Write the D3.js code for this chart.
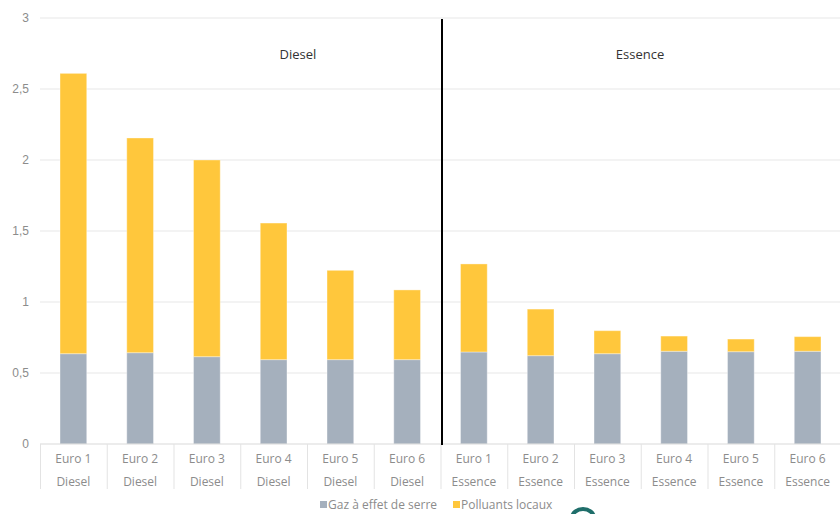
<!DOCTYPE html>
<html>
<head>
<meta charset="utf-8">
<script src="https://cdn.jsdelivr.net/npm/d3@7"></script>
<style>
  body { margin: 0; background: #fff; }
  svg { display: block; font-family: "Open Sans", sans-serif; }
  .tickText { fill: #8c8c8c; font-size: 12px; }
</style>
</head>
<body>
<div id="plot"></div>
<script>
// Chart values
var normes = ["Euro 1", "Euro 2", "Euro 3", "Euro 4", "Euro 5", "Euro 6"];
var carburants = ["Diesel", "Essence"];
var gazSerre = [0.636, 0.643, 0.615, 0.594, 0.594, 0.594, 0.648, 0.622, 0.636, 0.653, 0.650, 0.653];
var polluantsTotal = [2.61, 2.155, 2.0, 1.556, 1.223, 1.085, 1.268, 0.95, 0.798, 0.76, 0.739, 0.756];
var yTicks = [0, 0.5, 1, 1.5, 2, 2.5, 3];
var seriesNames = ["Gaz à effet de serre", "Polluants locaux"];
var colors = ["#a5b0bd", "#ffc73c"];

var svgWidth = 840;
var svgHeight = 514;
var margin = { top: 18, right: -1, bottom: 70, left: 40 };
var width = svgWidth - margin.left - margin.right;
var height = svgHeight - margin.top - margin.bottom;

// Build the rows: one per fuel / norm
var rows = [];
carburants.forEach(function(c, ci) {
  normes.forEach(function(n, ni) {
    var i = ci * normes.length + ni;
    rows.push({
      key: c + "|" + n,
      norme: n,
      carburant: c,
      gaz: gazSerre[i],
      locaux: polluantsTotal[i] - gazSerre[i]
    });
  });
});

var svg = d3.select("#plot")
  .append("svg")
  .attr("width", svgWidth)
  .attr("height", svgHeight);

var chartGroup = svg.append("g")
  .attr("transform", `translate(${margin.left}, ${margin.top})`);

var xBandScale = d3.scaleBand()
  .domain(rows.map(d => d.key))
  .range([0, width])
  .paddingInner(0.6)
  .paddingOuter(0.3);

var yLinearScale = d3.scaleLinear()
  .domain([0, 3])
  .range([height, 0]);

// Gridlines
chartGroup.append("g")
  .selectAll("line")
  .data(yTicks.slice(1))
  .enter()
  .append("line")
  .attr("x1", 0)
  .attr("x2", width)
  .attr("y1", d => yLinearScale(d))
  .attr("y2", d => yLinearScale(d))
  .attr("stroke", "#efefef")
  .attr("stroke-width", 1.5);

// Left axis (labels only)
var leftAxis = d3.axisLeft(yLinearScale)
  .tickValues(yTicks)
  .tickSize(0)
  .tickPadding(11)
  .tickFormat(d => String(d).replace(".", ","));

var yAxisG = chartGroup.append("g").call(leftAxis);
yAxisG.select(".domain").remove();
yAxisG.selectAll("text").attr("class", "tickText").attr("font-family", null).attr("font-size", null);

// Stacked bars
var stack = d3.stack().keys(["gaz", "locaux"]);
var stacked = stack(rows);

chartGroup.append("g")
  .selectAll("g")
  .data(stacked)
  .enter()
  .append("g")
  .attr("fill", (d, i) => colors[i])
  .selectAll("rect")
  .data(d => d)
  .enter()
  .append("rect")
  .attr("x", d => xBandScale(d.data.key))
  .attr("width", xBandScale.bandwidth())
  .attr("y", d => yLinearScale(d[1]))
  .attr("height", d => yLinearScale(d[0]) - yLinearScale(d[1]))
  .attr("stroke", "#ffffff")
  .attr("stroke-opacity", 0.35)
  .attr("stroke-width", 1);

// Category axis: baseline, separators and two label rows
var step = xBandScale.step();
var catAxis = chartGroup.append("g")
  .attr("transform", `translate(0, ${height})`);

catAxis.append("line")
  .attr("x1", 0)
  .attr("x2", width)
  .attr("stroke", "#d9d9d9");

catAxis.selectAll(".sep")
  .data(d3.range(rows.length + 1))
  .enter()
  .append("line")
  .attr("class", "sep")
  .attr("x1", i => i * step + 0.5)
  .attr("x2", i => i * step + 0.5)
  .attr("y1", 0)
  .attr("y2", 45)
  .attr("stroke", "#e3e3e3");

catAxis.selectAll(".norme")
  .data(rows)
  .enter()
  .append("text")
  .attr("class", "tickText")
  .attr("x", d => xBandScale(d.key) + xBandScale.bandwidth() / 2)
  .attr("y", 19)
  .attr("text-anchor", "middle")
  .text(d => d.norme);

catAxis.selectAll(".carb")
  .data(rows)
  .enter()
  .append("text")
  .attr("class", "tickText")
  .attr("x", d => xBandScale(d.key) + xBandScale.bandwidth() / 2)
  .attr("y", 42)
  .attr("text-anchor", "middle")
  .text(d => d.carburant);

// Black divider between Diesel and Essence
var divX = normes.length * step + 1.5;
chartGroup.append("line")
  .attr("x1", divX)
  .attr("x2", divX)
  .attr("y1", yLinearScale(3) + 1)
  .attr("y2", height + 1)
  .attr("stroke", "#000")
  .attr("stroke-width", 2);

// Group titles
chartGroup.selectAll(".groupTitle")
  .data(carburants)
  .enter()
  .append("text")
  .attr("class", "groupTitle")
  .attr("x", (d, i) => i === 0 ? 258 : 600)
  .attr("y", yLinearScale(2.71))
  .attr("text-anchor", "middle")
  .attr("fill", "#333")
  .style("font-size", "13px")
  .text(d => d);

// Legend
var legend = svg.append("g")
  .attr("transform", "translate(320, 507)");
var legendX = [0, 133];
seriesNames.forEach(function(name, i) {
  var g = legend.append("g").attr("transform", `translate(${legendX[i]}, 0)`);
  g.append("rect")
    .attr("x", 0)
    .attr("y", -6)
    .attr("width", 7)
    .attr("height", 7)
    .attr("fill", colors[i]);
  g.append("text")
    .attr("class", "tickText")
    .attr("x", 8)
    .attr("y", 1)
    .attr("dy", "0.1em")
    .text(name);
});

// Partial logo at the bottom edge
svg.append("path")
  .attr("d", "M572,518 A11,9 0 0 1 594,518")
  .attr("fill", "none")
  .attr("stroke", "#1f6e6a")
  .attr("stroke-width", 4);
</script>
</body>
</html>
